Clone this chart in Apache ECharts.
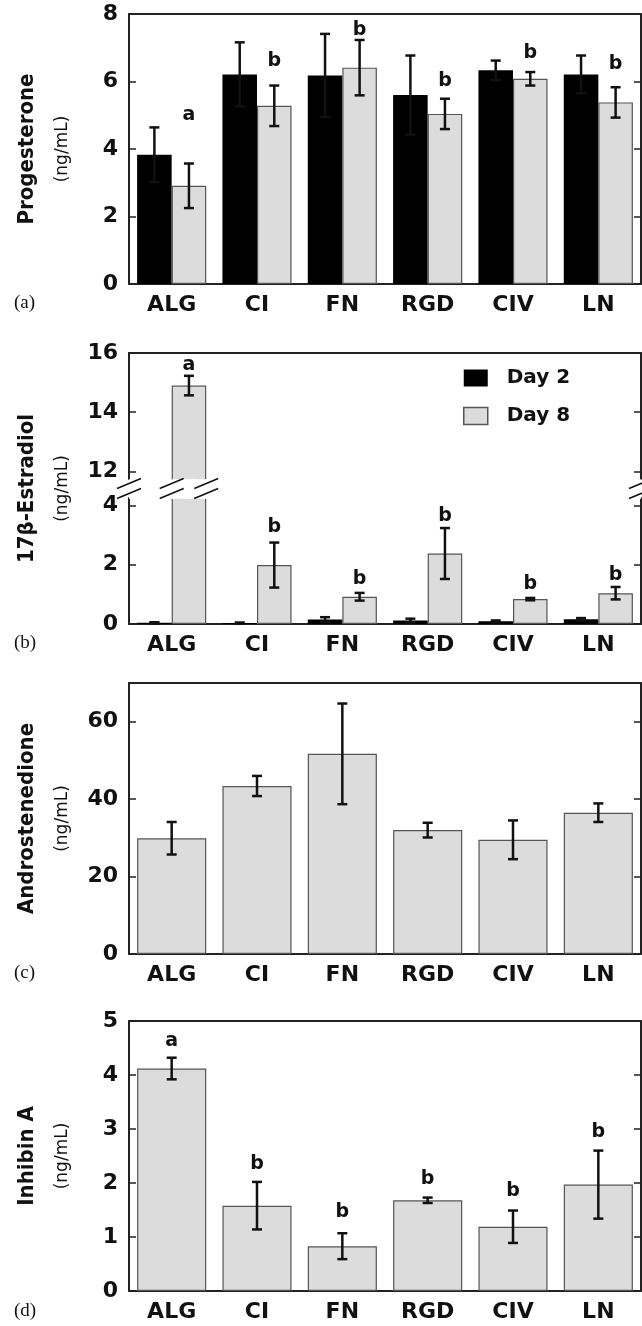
<!DOCTYPE html>
<html>
<head>
<meta charset="utf-8">
<script src="https://cdn.jsdelivr.net/npm/echarts@6/dist/echarts.min.js"></script>
<style>
  html, body { margin: 0; padding: 0; background: #fff; }
  #chart { width: 642px; height: 1326px; }
</style>
</head>
<body>
<div id="chart"></div>
<script>
// categories (matrix type)
var categories = ['ALG', 'CI', 'FN', 'RGD', 'CIV', 'LN'];

// (a) progesterone, ng/mL
var progDay2 = [3.83, 6.21, 6.18, 5.60, 6.33, 6.21];
var progDay2Err = [0.81, 0.95, 1.23, 1.17, 0.29, 0.56];
var progDay8 = [2.91, 5.28, 6.41, 5.04, 6.08, 5.38];
var progDay8Err = [0.66, 0.60, 0.82, 0.45, 0.20, 0.45];
var progLetters = ['a', 'b', 'b', 'b', 'b', 'b'];
var progLetterY = [5.0, 6.6, 7.52, 6.0, 6.83, 6.52];

// (b) 17b-estradiol, ng/mL
var estDay2 = [0.04, 0.03, 0.15, 0.12, 0.09, 0.16];
var estDay2Err = [0.02, 0.02, 0.08, 0.06, 0.03, 0.04];
var estDay8 = [14.9, 1.99, 0.92, 2.38, 0.84, 1.04];
var estDay8Err = [0.33, 0.76, 0.13, 0.86, 0.04, 0.21];
var estLetters = ['a', 'b', 'b', 'b', 'b', 'b'];
var estLetterY = [15.6, 3.27, 1.51, 3.65, 1.34, 1.65];
var estTicks = [0, 2, 4, 12, 14, 16];

// (c) androstenedione, ng/mL (day 8 only)
var andro = [29.9, 43.4, 51.7, 32.0, 29.5, 36.5];
var androErr = [4.2, 2.6, 13.0, 1.9, 5.0, 2.4];
var androTicks = [0, 20, 40, 60];

// (d) inhibin A, ng/mL (day 8 only)
var inhib = [4.12, 1.58, 0.83, 1.68, 1.19, 1.97];
var inhibErr = [0.20, 0.44, 0.24, 0.05, 0.30, 0.63];
var inhibLetters = ['a', 'b', 'b', 'b', 'b', 'b'];
var inhibLetterY = [4.62, 2.35, 1.46, 2.07, 1.85, 2.95];

var SANS = '"DejaVu Sans", sans-serif';
var NARROW = '"Liberation Sans Narrow", "DejaVu Sans Condensed", "Liberation Sans", sans-serif';
var INK = '#111';
var GRAY = '#dcdcdc';
var CAT_GAP = 0.19;                 // barCategoryGap
var HALF = (1 - CAT_GAP) / 4;       // offset of each bar in a pair

var chart = echarts.init(document.getElementById('chart'));

function errRender(offset) {
  return function (params, api) {
    var i = api.value(0), v = api.value(1), e = api.value(2);
    var band = api.size([1, 0])[0];
    var top = api.coord([i, v + e]);
    var bot = api.coord([i, Math.max(0, v - e)]);
    var x = top[0] + band * offset;
    var st = { stroke: INK, lineWidth: 2.5 };
    return {
      type: 'group',
      children: [
        { type: 'line', shape: { x1: x, y1: top[1], x2: x, y2: bot[1] }, style: st },
        { type: 'line', shape: { x1: x - 5, y1: top[1], x2: x + 5, y2: top[1] }, style: st },
        { type: 'line', shape: { x1: x - 5, y1: bot[1], x2: x + 5, y2: bot[1] }, style: st }
      ]
    };
  };
}

function letterRender(letters, offset) {
  return function (params, api) {
    var band = api.size([1, 0])[0];
    var pt = api.coord([api.value(0), api.value(1)]);
    return {
      type: 'text',
      x: pt[0] + band * offset,
      y: pt[1],
      style: {
        text: letters[params.dataIndex],
        fontFamily: SANS, fontWeight: 'bold', fontSize: 19,
        fill: INK, align: 'center', verticalAlign: 'middle'
      }
    };
  };
}

function withErr(vals, errs) {
  return vals.map(function (v, i) { return [i, v, errs[i]]; });
}
function points(ys) {
  return ys.map(function (y, i) { return [i, y]; });
}

var panels = [
  { top: 14, height: 270, min: 0, max: 8, interval: 2,
    name: 'Progesterone', tag: '(a)', tagY: 305 },
  { top: 353, height: 271, min: 0, max: 16, interval: 2,
    name: '17β-Estradiol', tag: '(b)', tagY: 645 },
  { top: 683, height: 271, min: 0, max: 70, interval: 20,
    name: 'Androstenedione', tag: '(c)', tagY: 975 },
  { top: 1021, height: 270, min: 0, max: 5, interval: 1,
    name: 'Inhibin A', tag: '(d)', tagY: 1313 }
];

var grids = [], xAxes = [], yAxes = [], series = [], graphics = [];
var lineStyle = { color: '#222', width: 2 };

panels.forEach(function (p, k) {
  grids.push({ left: 129, right: 1, top: p.top, height: p.height });
  xAxes.push({
    type: 'category', gridIndex: k, data: categories, position: 'bottom',
    axisLine: { lineStyle: lineStyle, onZero: false },
    axisTick: { inside: true, length: 7, lineStyle: { color: '#222', width: 1.5 } },
    axisLabel: { fontFamily: SANS, fontWeight: 'bold', fontSize: 22, color: INK, margin: 10 }
  });
  xAxes.push({
    type: 'category', gridIndex: k, data: categories, position: 'top',
    axisLine: { lineStyle: lineStyle, onZero: false },
    axisTick: { inside: true, length: 6, lineStyle: { color: '#222', width: 1.5 } },
    axisLabel: { show: false }
  });
  var yBase = {
    type: 'value', gridIndex: k, min: p.min, max: p.max, interval: p.interval,
    axisLine: { show: true, lineStyle: lineStyle },
    axisTick: { show: true, inside: true, length: 7, lineStyle: { color: '#222', width: 1.5 } },
    splitLine: { show: false }
  };
  var left = echarts.util.merge({
    position: 'left',
    name: '{t|' + p.name + '}\n{u|(ng/mL)}',
    nameLocation: 'middle', nameRotate: 90, nameGap: 45,
    nameTextStyle: {
      rich: {
        t: { fontFamily: NARROW, fontWeight: 'bold', fontSize: 22, color: INK, lineHeight: 30, align: 'center' },
        u: { fontFamily: SANS, fontSize: 17, color: INK, lineHeight: 42, align: 'center' }
      }
    },
    axisLabel: { fontFamily: SANS, fontWeight: 'bold', fontSize: 22, color: INK, margin: 11 }
  }, echarts.util.clone(yBase), false);
  var right = echarts.util.merge({ position: 'right', axisLabel: { show: false } },
    echarts.util.clone(yBase), false);
  if (k === 1) {
    [left, right].forEach(function (ax) {
      ax.breaks = [{ start: 4.25, end: 11.75, gap: 0.65 }];
      ax.breakArea = {
        show: true, expandOnClick: false, zigzagAmplitude: 0.5, zigzagZ: 100,
        itemStyle: { color: '#fff', borderColor: '#fff', borderWidth: 0, opacity: 1 }
      };
      ax.axisTick.customValues = estTicks;
    });
    left.axisLabel.customValues = estTicks;
  }
  if (k === 2) {
    left.axisTick.customValues = androTicks;
    right.axisTick.customValues = androTicks;
    left.axisLabel.customValues = androTicks;
  }
  yAxes.push(left, right);
  graphics.push({
    type: 'text', left: 14, top: p.tagY - 11,
    style: { text: p.tag, fontFamily: '"Liberation Serif", "DejaVu Serif", serif', fontSize: 19, fill: INK }
  });
});

function barSeries(name, k, vals, color, border) {
  return {
    name: name, type: 'bar', xAxisIndex: 2 * k, yAxisIndex: 2 * k, data: vals,
    barGap: '0%', barCategoryGap: (CAT_GAP * 100) + '%',
    itemStyle: { color: color, borderColor: border, borderWidth: border ? 1.2 : 0 },
    silent: true
  };
}
function errSeries(k, vals, errs, offset) {
  return {
    type: 'custom', xAxisIndex: 2 * k, yAxisIndex: 2 * k, z: 5, silent: true,
    renderItem: errRender(offset), data: withErr(vals, errs), encode: { x: 0, y: 1 }
  };
}
function letterSeries(k, letters, ys, offset) {
  return {
    type: 'custom', xAxisIndex: 2 * k, yAxisIndex: 2 * k, z: 6, silent: true,
    renderItem: letterRender(letters, offset), data: points(ys), encode: { x: 0, y: 1 }
  };
}

// (a)
series.push(barSeries('Day 2', 0, progDay2, '#000', null));
series.push(barSeries('Day 8', 0, progDay8, GRAY, '#555'));
series.push(errSeries(0, progDay2, progDay2Err, -HALF));
series.push(errSeries(0, progDay8, progDay8Err, HALF));
series.push(letterSeries(0, progLetters, progLetterY, HALF));
// (b)
series.push(barSeries('Day 2', 1, estDay2, '#000', null));
series.push(barSeries('Day 8', 1, estDay8, GRAY, '#555'));
series.push(errSeries(1, estDay2, estDay2Err, -HALF));
series.push(errSeries(1, estDay8, estDay8Err, HALF));
series.push(letterSeries(1, estLetters, estLetterY, HALF));
// (c)
series.push(barSeries('Androstenedione', 2, andro, GRAY, '#555'));
series.push(errSeries(2, andro, androErr, 0));
// (d)
series.push(barSeries('Inhibin A', 3, inhib, GRAY, '#555'));
series.push(errSeries(3, inhib, inhibErr, 0));
series.push(letterSeries(3, inhibLetters, inhibLetterY, 0));

chart.setOption({
  animation: false,
  backgroundColor: '#fff',
  grid: grids,
  xAxis: xAxes,
  yAxis: yAxes,
  legend: {
    data: ['Day 2', 'Day 8'], orient: 'vertical', left: 463, top: 368, padding: 0,
    icon: 'rect', itemWidth: 24, itemHeight: 17, itemGap: 18, selectedMode: false,
    itemStyle: { borderWidth: 1.5 },
    textStyle: { fontFamily: SANS, fontWeight: 'bold', fontSize: 20, color: INK, padding: [0, 0, 0, 14] }
  },
  graphic: graphics,
  series: series
});

// break marks "//" on the estradiol panel: axes and ALG bar edges
var y4 = chart.convertToPixel({ yAxisIndex: 2 }, 4);
var y12 = chart.convertToPixel({ yAxisIndex: 2 }, 12);
var yc = (y4 + y12) / 2;
var c0 = chart.convertToPixel({ xAxisIndex: 2 }, 0);
var c1 = chart.convertToPixel({ xAxisIndex: 2 }, 1);
var band = c1 - c0;
var marksX = [129, c0, c0 + band * 2 * HALF, 641];
marksX.forEach(function (x) {
  [-5, 5].forEach(function (d) {
    graphics.push({
      type: 'line', z: 200, silent: true,
      shape: { x1: x - 12, y1: yc + d + 5, x2: x + 12, y2: yc + d - 5 },
      style: { stroke: INK, lineWidth: 1.5 }
    });
  });
});
chart.setOption({ graphic: graphics });
</script>
</body>
</html>
